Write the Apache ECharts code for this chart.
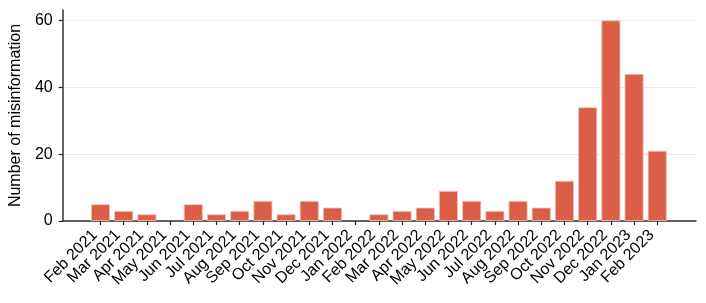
<!DOCTYPE html>
<html>
<head>
<meta charset="utf-8">
<script src="https://cdn.jsdelivr.net/npm/echarts@6/dist/echarts.min.js"></script>
<style>html,body{margin:0;padding:0;background:#fff}#c{width:706px;height:303px}</style>
</head>
<body>
<div id="c"></div>
<script>
const categories = ['Feb 2021','Mar 2021','Apr 2021','May 2021','Jun 2021','Jul 2021','Aug 2021','Sep 2021','Oct 2021','Nov 2021','Dec 2021','Jan 2022','Feb 2022','Mar 2022','Apr 2022','May 2022','Jun 2022','Jul 2022','Aug 2022','Sep 2022','Oct 2022','Nov 2022','Dec 2022','Jan 2023','Feb 2023'];
const counts = [5,3,2,0,5,2,3,6,2,6,4,0,2,3,4,9,6,3,6,4,12,34,60,44,21];
const yTicks = [0,20,40,60];

const idx = categories.map((_, i) => i);
const font = 'Liberation Sans, Arial, Helvetica, sans-serif';
const chart = echarts.init(document.getElementById('c'), null, {renderer: 'canvas'});
chart.setOption({
  animation: false,
  grid: {left: 60, right: 10, top: 10, bottom: 82},
  xAxis: {
    type: 'value', min: -1.63, max: 25.67,
    axisLine: {show: true, onZero: false, lineStyle: {color: '#333', width: 1.5}},
    axisTick: {show: true, customValues: idx, length: 4, lineStyle: {color: '#222', width: 1.2}},
    axisLabel: {customValues: idx, rotate: 45, margin: 6, padding: [0, 8, 0, 0], color: '#000', fontSize: 16, fontFamily: font,
      formatter: v => categories[Math.round(v)]},
    splitLine: {show: false}
  },
  yAxis: {
    type: 'value', min: 0, max: 63.1,
    name: 'Number of misinformation', nameLocation: 'middle', nameGap: 34,
    nameTextStyle: {color: '#000', fontSize: 16, fontFamily: font},
    axisLine: {show: true, onZero: false, lineStyle: {color: '#333', width: 1.5}},
    axisTick: {show: true, customValues: yTicks, length: 4, lineStyle: {color: '#222', width: 1.2}},
    axisLabel: {customValues: yTicks, margin: 10, color: '#000', fontSize: 16, fontFamily: font},
    splitLine: {show: true, lineStyle: {color: '#f6e6dc', width: 1}}
  },
  series: [{
    type: 'bar',
    barWidth: 19,
    data: idx.map(i => ({value: [i, counts[i]], itemStyle: {borderWidth: counts[i] === 0 ? 0 : 0.8}})),
    itemStyle: {color: '#da5e48', borderColor: '#f3c4b8'}
  }]
});
</script>
</body>
</html>
